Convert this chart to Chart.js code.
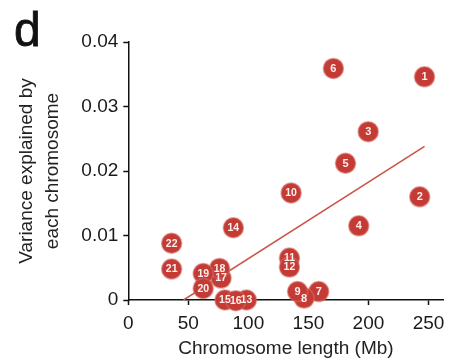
<!DOCTYPE html>
<html>
<head>
<meta charset="utf-8">
<script src="https://cdn.jsdelivr.net/npm/chart.js@4.4.1/dist/chart.umd.min.js"></script>
<style>
  html, body { margin: 0; padding: 0; background: #fff; }
  #wrap { width: 455px; height: 360px; position: relative; }
</style>
</head>
<body>
<div id="wrap"><canvas id="chart"></canvas></div>
<script>
// chromosome numbers, their length (Mb) and the variance each one explains
const chromosomes = ["1", "2", "3", "4", "5", "6", "7", "8", "9", "10", "11",
  "12", "13", "14", "15", "16", "17", "18", "19", "20", "21", "22"];
const lengthMb = [246.7, 242.7, 199.8, 191.9, 180.9, 170.8, 158.6, 146.4, 141.0, 135.6, 134.2,
  134.2, 98.4, 87.5, 80.5, 89.5, 77.3, 76.0, 62.4, 62.4, 36.1, 36.1];
const varianceExplained = [0.0346, 0.0160, 0.0261, 0.0115, 0.0212, 0.0359, 0.0013, 0.0003, 0.0013, 0.0166, 0.0065,
  0.0051, 0.0000, 0.0112, 0.0000, -0.0001, 0.0034, 0.0049, 0.0041, 0.0018, 0.0048, 0.0088];

// fitted line, end points
const fitX = [46, 246.7];
const fitY = [0, 0.0238];

const xTicks = [0, 50, 100, 150, 200, 250];

const red = "#c33b34";

const points = lengthMb.map((x, i) => ({ x: x, y: varianceExplained[i] }));
const fitLine = fitX.map((x, i) => ({ x: x, y: fitY[i] }));

// white number inside each circle
const pointLabels = {
  id: "pointLabels",
  afterDatasetsDraw(chart) {
    const ctx = chart.ctx;
    const meta = chart.getDatasetMeta(0);
    ctx.save();
    ctx.fillStyle = "#fdeeee";
    ctx.textAlign = "center";
    ctx.textBaseline = "middle";
    meta.data.forEach((el, i) => {
      const txt = chromosomes[i];
      ctx.font = txt.length > 1 ? "bold 10.5px 'Liberation Sans', Arial" : "bold 11px 'Liberation Sans', Arial";
      ctx.fillText(txt, el.x, el.y + 0.5);
    });
    ctx.restore();
  }
};

// panel letter
const panelLetter = {
  id: "panelLetter",
  afterDraw(chart) {
    const ctx = chart.ctx;
    ctx.save();
    ctx.fillStyle = "#111";
    ctx.font = "48px 'Liberation Sans', Arial";
    ctx.textBaseline = "alphabetic";
    ctx.lineWidth = 0.8;
    ctx.strokeStyle = "#111";
    ctx.fillText("d", 14, 46);
    ctx.strokeText("d", 14, 46);
    ctx.restore();
  }
};

new Chart(document.getElementById("chart"), {
  type: "scatter",
  data: {
    datasets: [
      {
        label: "Chromosomes",
        data: points,
        backgroundColor: red,
        borderColor: "rgba(214, 110, 104, 0.55)",
        borderWidth: 1.5,
        pointRadius: 10,
        pointHoverRadius: 10,
        clip: false,
        order: 0,
      },
      {
        label: "Fit",
        type: "line",
        data: fitLine,
        borderColor: "#cc5148",
        borderWidth: 1.5,
        pointRadius: 0,
        fill: false,
        order: 1,
      },
    ],
  },
  options: {
    responsive: true,
    maintainAspectRatio: false,
    animation: false,
    events: [],
    layout: {
      padding: { left: 0, right: 4, top: 42, bottom: 0 },
    },
    plugins: {
      legend: { display: false },
      tooltip: { enabled: false },
    },
    scales: {
      x: {
        type: "linear",
        min: 0,
        max: 262.5,
        afterBuildTicks: (scale) => {
          scale.ticks = xTicks.map((v) => ({ value: v }));
        },
        afterFit: (scale) => {
          scale.height = 60;
        },
        ticks: {
          color: "#1a1a1a",
          font: { family: "'Liberation Sans', Arial", size: 19 },
          padding: 7,
          maxRotation: 0,
        },
        grid: {
          drawOnChartArea: false,
          drawTicks: true,
          tickLength: 5,
          tickColor: "#111",
          tickWidth: 1.5,
        },
        border: { display: true, color: "#111", width: 1.5 },
        title: {
          display: true,
          text: "Chromosome length (Mb)",
          color: "#222",
          font: { family: "'Liberation Sans', Arial", size: 19 },
          padding: { top: 0, bottom: 0 },
        },
      },
      y: {
        min: 0,
        max: 0.04,
        afterFit: (scale) => {
          scale.width = 128.3;
        },
        ticks: {
          stepSize: 0.01,
          color: "#1a1a1a",
          font: { family: "'Liberation Sans', Arial", size: 19 },
          padding: 5,
          callback: (v) => (v === 0 ? "0" : v.toFixed(2)),
        },
        grid: {
          drawOnChartArea: false,
          drawTicks: true,
          tickLength: 5,
          tickColor: "#111",
          tickWidth: 1.5,
        },
        border: { display: true, color: "#111", width: 1.5 },
        title: {
          display: true,
          text: ["Variance explained by", "each chromosome"],
          color: "#222",
          font: { family: "'Liberation Sans', Arial", size: 19, lineHeight: 26 / 19 },
          padding: { top: 14, bottom: 0 },
        },
      },
    },
  },
  plugins: [pointLabels, panelLetter],
});
</script>
</body>
</html>
